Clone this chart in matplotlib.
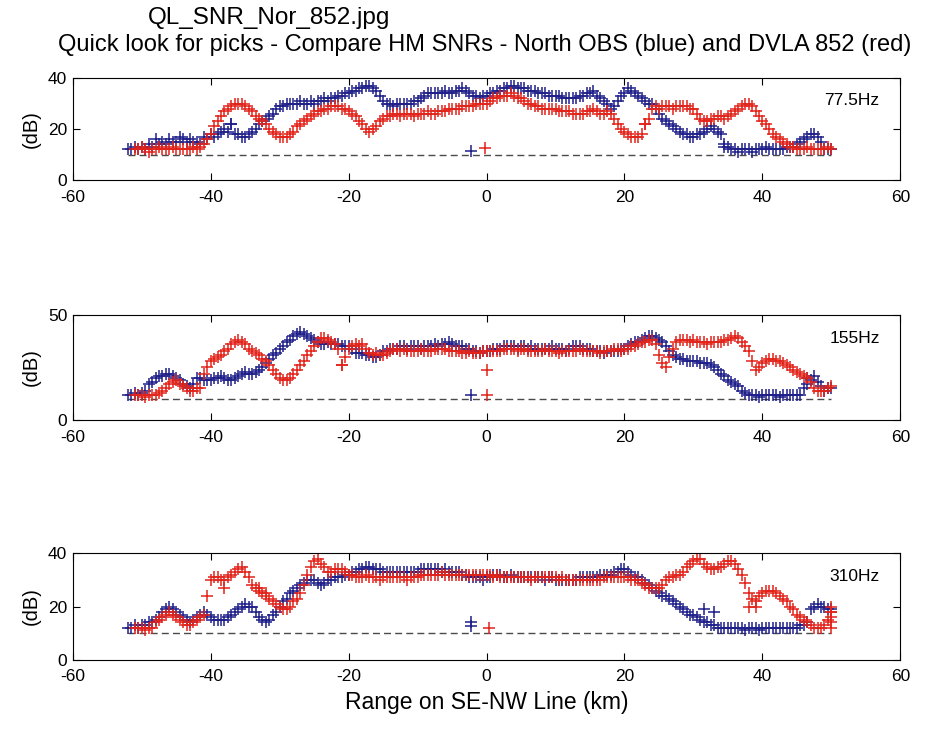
import numpy as np
import matplotlib
matplotlib.use("Agg")
import matplotlib.pyplot as plt

# ranges along the SE-NW line (km), one pick every 0.5 km
range_blue_km = np.arange(-52, 50.25, 0.5)
range_red_km = np.arange(-51, 50.25, 0.5)

# 77.5 Hz SNR (dB)
snr_775_blue = [
    12, 12, 13, 12, 13, 12, 14, 13, 16, 14, 15, 14, 16, 15, 15, 17, 16, 15, 16, 15,
    15, 14, 17, 16, 18, 17, 18, 19, 20, 19, 22, 18, 18, 17, 17, 18, 19, 20, 22, 23,
    24, 25, 26, 28, 29, 29, 30, 30, 30, 30, 31, 30, 30, 31, 30, 31, 31, 32, 31, 32,
    32, 33, 33, 34, 34, 35, 35, 36, 36, 37, 37, 36, 35, 33, 31, 30, 30, 29, 30, 30,
    30, 30, 30, 31, 31, 32, 33, 34, 34, 34, 34, 34, 35, 34, 34, 35, 35, 36, 35, 34,
    33, 33, 32, 33, 33, 34, 34, 35, 35, 36, 36, 37, 37, 36, 36, 36, 35, 35, 35, 34,
    34, 34, 33, 33, 33, 33, 32, 32, 32, 32, 32, 33, 33, 34, 34, 35, 33, 32, 31, 30,
    28, 29, 31, 33, 34, 36, 35, 34, 33, 32, 31, 30, 30, 28, 26, 24, 23, 22, 21, 20,
    19, 18, 18, 17, 17, 18, 18, 19, 20, 21, 20, 19, 18, 14, 13, 12, 12, 11, 12, 12,
    12, 11, 12, 12, 12, 13, 12, 12, 12, 12, 12, 13, 13, 13, 14, 15, 16, 17, 18, 18,
    17, 15, 12, 12, 12,
]
snr_775_red = [
    12, 12, 13, 12, 11, 12, 12, 13, 12, 12, 12, 13, 12, 12, 12, 12, 12, 13, 12, 13,
    14, 16, 18, 21, 23, 25, 27, 28, 29, 30, 30, 30, 29, 28, 27, 25, 24, 23, 22, 20,
    19, 18, 17, 17, 17, 18, 19, 21, 22, 23, 24, 25, 26, 27, 27, 28, 28, 29, 29, 29,
    28, 28, 27, 26, 25, 23, 22, 20, 19, 20, 21, 23, 24, 25, 25, 26, 26, 25, 26, 26,
    26, 25, 26, 26, 26, 27, 26, 26, 27, 27, 27, 28, 28, 28, 28, 29, 29, 29, 29, 30,
    30, 30, 30, 31, 32, 32, 33, 33, 33, 34, 33, 32, 32, 31, 30, 30, 29, 29, 28, 28,
    28, 28, 28, 27, 27, 27, 27, 26, 26, 26, 26, 27, 27, 28, 27, 26, 26, 27, 26, 24,
    22, 20, 19, 18, 17, 17, 17, 18, 22, 24, 28, 29, 28, 29, 29, 29, 28, 29, 29, 29,
    29, 28, 28, 26, 24, 23, 23, 24, 24, 25, 25, 24, 25, 26, 27, 28, 29, 30, 30, 29,
    27, 25, 23, 22, 20, 18, 17, 16, 15, 14, 13, 13, 12, 12, 12, 13, 12, 12, 12, 12,
    12, 13, 12,
]

# 155 Hz SNR (dB)
snr_155_blue = [
    12, 12, 13, 12, 13, 14, 17, 18, 20, 21, 21, 22, 22, 21, 20, 19, 17, 16, 15, 17,
    20, 20, 19, 19, 19, 20, 20, 21, 20, 19, 19, 20, 21, 22, 23, 22, 22, 23, 24, 25,
    27, 29, 31, 32, 34, 35, 37, 38, 40, 41, 42, 41, 40, 39, 38, 37, 36, 36, 37, 36,
    36, 36, 35, 35, 35, 34, 32, 32, 32, 31, 31, 30, 30, 31, 33, 33, 34, 34, 34, 35,
    35, 34, 35, 35, 35, 34, 35, 35, 35, 36, 35, 36, 36, 37, 36, 35, 35, 35, 34, 34,
    33, 33, 32, 33, 33, 33, 34, 34, 34, 35, 35, 35, 35, 34, 35, 35, 34, 35, 34, 34,
    34, 34, 34, 35, 34, 34, 34, 33, 34, 35, 35, 35, 34, 34, 34, 33, 33, 33, 32, 33,
    33, 33, 33, 34, 34, 35, 36, 37, 37, 38, 39, 40, 40, 39, 38, 37, 35, 33, 31, 30,
    29, 29, 28, 28, 28, 28, 27, 27, 27, 26, 25, 24, 22, 21, 19, 18, 17, 16, 14, 13,
    12, 12, 12, 11, 12, 12, 12, 12, 12, 11, 12, 12, 12, 12, 12, 12, 15, 17, 19, 21,
    18, 16, 14, 15, 15,
]
snr_155_red = [
    12, 12, 12, 11, 12, 12, 12, 13, 14, 15, 17, 18, 19, 17, 16, 15, 14, 14, 15, 15,
    22, 25, 28, 29, 30, 31, 33, 34, 36, 37, 38, 37, 36, 34, 33, 32, 31, 29, 28, 26,
    24, 22, 20, 19, 19, 20, 22, 24, 26, 28, 31, 33, 35, 37, 39, 39, 38, 37, 36, 34,
    26, 30, 34, 35, 36, 35, 36, 34, 32, 31, 32, 31, 31, 32, 33, 34, 34, 33, 34, 33,
    33, 33, 33, 34, 33, 33, 33, 34, 34, 34, 34, 33, 33, 33, 33, 32, 32, 33, 32, 32,
    32, 33, 33, 33, 33, 33, 33, 34, 34, 34, 34, 33, 34, 34, 33, 33, 33, 33, 33, 34,
    33, 33, 33, 32, 33, 33, 33, 33, 33, 34, 33, 33, 33, 33, 33, 32, 33, 33, 33, 34,
    34, 33, 34, 34, 35, 35, 36, 37, 37, 38, 38, 36, 31, 27, 25, 30, 34, 37, 38, 38,
    38, 37, 38, 37, 37, 37, 36, 37, 37, 37, 37, 38, 38, 39, 40, 39, 37, 35, 33, 28,
    24, 25, 27, 28, 29, 29, 28, 28, 27, 26, 25, 24, 23, 22, 21, 20, 18, 15, 14, 14,
    14, 15, 16,
]

# 310 Hz SNR (dB)
snr_310_blue = [
    12, 12, 13, 12, 13, 13, 14, 14, 15, 16, 18, 19, 20, 19, 18, 17, 16, 15, 14, 15,
    16, 17, 18, 17, 16, 15, 15, 15, 15, 16, 17, 18, 19, 20, 21, 20, 20, 18, 16, 15,
    14, 15, 17, 18, 20, 22, 23, 25, 26, 27, 28, 29, 30, 30, 30, 29, 28, 29, 30, 30,
    31, 31, 31, 32, 32, 33, 33, 34, 34, 35, 35, 34, 34, 34, 33, 33, 33, 33, 33, 33,
    33, 33, 33, 33, 33, 34, 34, 34, 34, 34, 34, 33, 34, 33, 33, 33, 33, 32, 32, 31,
    31, 31, 31, 30, 31, 31, 32, 32, 32, 31, 31, 32, 31, 31, 31, 31, 31, 31, 31, 31,
    31, 30, 31, 31, 30, 30, 30, 30, 30, 30, 30, 31, 31, 31, 31, 31, 31, 32, 32, 32,
    32, 33, 33, 34, 34, 33, 32, 31, 31, 30, 29, 28, 27, 26, 25, 24, 24, 23, 22, 21,
    20, 19, 18, 17, 17, 16, 15, 14, 14, 13, 13, 12, 12, 12, 12, 12, 12, 12, 12, 11,
    12, 12, 12, 11, 12, 12, 12, 12, 12, 12, 12, 12, 12, 12, 12, 13, 13, 14, 19, 20,
    21, 20, 20, 19, 19,
]
snr_310_red = [
    12, 12, 12, 11, 12, 12, 14, 15, 16, 17, 18, 17, 16, 15, 14, 13, 13, 14, 15, 16,
    17, 24, 30, 31, 31, 30, 30, 31, 32, 33, 34, 35, 33, 31, 28, 27, 26, 25, 24, 23,
    22, 21, 20, 19, 19, 20, 22, 23, 25, 28, 32, 35, 37, 38, 36, 35, 33, 33, 34, 34,
    34, 33, 32, 32, 31, 31, 31, 32, 31, 31, 31, 30, 31, 31, 31, 31, 31, 31, 31, 30,
    31, 31, 31, 32, 32, 32, 32, 32, 32, 33, 32, 32, 32, 32, 32, 32, 32, 32, 32, 32,
    32, 32, 32, 32, 31, 32, 31, 31, 31, 31, 31, 31, 31, 31, 31, 30, 31, 31, 31, 31,
    31, 31, 31, 30, 31, 30, 30, 30, 30, 30, 30, 30, 30, 30, 30, 30, 31, 31, 31, 31,
    31, 31, 31, 31, 30, 30, 30, 29, 28, 27, 27, 27, 27, 28, 30, 31, 31, 32, 32, 33,
    35, 36, 37, 38, 38, 36, 35, 34, 34, 35, 35, 36, 37, 37, 36, 34, 32, 29, 25, 23,
    22, 24, 25, 26, 26, 26, 25, 24, 23, 22, 20, 19, 17, 16, 15, 14, 13, 12, 12, 12,
    13, 15, 18,
]

# isolated picks near the centre and stray picks (km, dB)
extra_775_blue = ([-2.3, -37.0, 34.5], [11.5, 22.0, 13.0])
extra_775_red = ([-0.2, 23.0], [12.5, 22.0])
extra_155_blue = ([-2.2, 46.5], [12.0, 20.0])
extra_155_red = ([0.0, 0.0, -21.0], [24.0, 12.0, 26.0])
extra_310_blue = ([-2.2, -2.2, 31.5, 33.0], [14.0, 12.5, 19.0, 18.0])
extra_310_red = ([0.3, -38.0, -33.0, -32.0, 38.0, 39.0, 50.0, 50.0, 50.0, 50.0, 50.0],
                 [12.0, 27.0, 27.0, 25.0, 20.0, 20.0, 12.0, 14.0, 16.0, 18.0, 20.0])

threshold_db = 10
freq_labels = ["77.5Hz", "155Hz", "310Hz"]
y_tops = [40, 50, 40]
y_ticks = [[0, 20, 40], [0, 50], [0, 20, 40]]
x_ticks = [-60, -40, -20, 0, 20, 40, 60]

BLUE = "#1f1f8a"
RED = "#e2231a"

plt.rcParams["font.family"] = ["Liberation Sans", "DejaVu Sans"]
plt.rcParams["axes.unicode_minus"] = False

fig = plt.figure(figsize=(9.33, 7.29), dpi=100)
boxes = [
    [0.078, 0.753, 0.887, 0.140],
    [0.078, 0.424, 0.887, 0.144],
    [0.078, 0.095, 0.887, 0.146],
]

panels = [
    (snr_775_blue, snr_775_red, extra_775_blue, extra_775_red),
    (snr_155_blue, snr_155_red, extra_155_blue, extra_155_red),
    (snr_310_blue, snr_310_red, extra_310_blue, extra_310_red),
]

mk = dict(linestyle="none", marker="+", markersize=8, markeredgewidth=1.1)

for i, (blue, red, xb, xr) in enumerate(panels):
    ax = fig.add_axes(boxes[i])
    ax.plot([range_blue_km[0], range_red_km[-1]], [threshold_db, threshold_db],
            color="#4a4a4a", linestyle=(0, (5, 3)), linewidth=1.0)
    ax.plot(range_blue_km, blue, color=BLUE, **mk)
    ax.plot(xb[0], xb[1], color=BLUE, **mk)
    ax.plot(range_red_km, red, color=RED, **mk)
    ax.plot(xr[0], xr[1], color=RED, **mk)

    ax.set_xlim(-60, 60)
    ax.set_ylim(0, y_tops[i])
    ax.set_xticks(x_ticks)
    ax.set_yticks(y_ticks[i])
    ax.tick_params(direction="in", top=True, right=True, length=5, width=0.8,
                   labelsize=12.5)
    ax.tick_params(axis="x", pad=7)
    ax.tick_params(axis="y", pad=4)
    for s in ax.spines.values():
        s.set_linewidth(0.8)
    ax.set_ylabel("(dB)", fontsize=14.5, labelpad=5)
    ax.text(0.975, 0.78, freq_labels[i], transform=ax.transAxes,
            ha="right", va="center", fontsize=12.5)
    if i == 2:
        ax.set_xlabel("Range on SE-NW Line (km)", fontsize=16.5, labelpad=5)

fig.text(0.159, 0.975, "QL_SNR_Nor_852.jpg", ha="left", va="center", fontsize=17.5)
fig.text(0.52, 0.938,
         "Quick look for picks - Compare HM SNRs - North OBS (blue) and DVLA 852 (red)",
         ha="center", va="center", fontsize=17)

fig.savefig("out.png", dpi=100)
